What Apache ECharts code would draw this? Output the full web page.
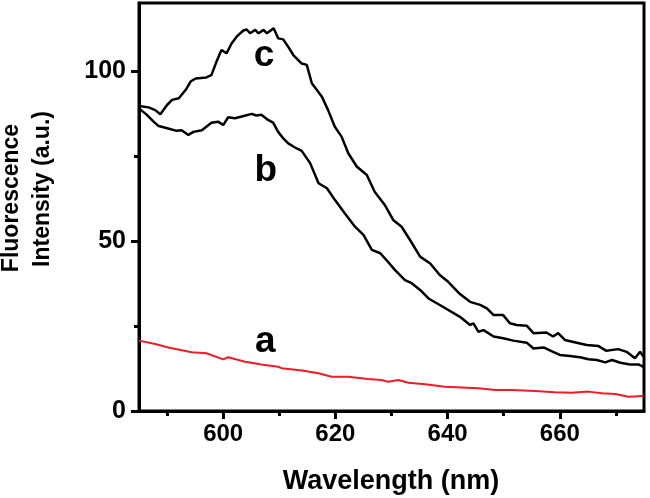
<!DOCTYPE html>
<html><head><meta charset="utf-8">
<script src="https://cdn.jsdelivr.net/npm/echarts@6/dist/echarts.min.js"></script>
<style>html,body{margin:0;padding:0;background:#fff}#c{width:650px;height:498px}</style>
</head><body><div id="c"></div>
<script>
const xTickLabels = [600, 620, 640, 660];
const xMinorTicks = [590, 610, 630, 650, 670];
const yTickLabels = [0, 50, 100];
const yMinorTicks = [25, 75];

const curveA = [[585,20.7],[587.9,19.7],[590.2,18.7],[594.4,17.3],[597,17],[600,15.2],[600.9,15.8],[603.9,14.5],[606.8,13.7],[609.8,13],[610.4,12.6],[614,11.9],[617,11.1],[619.3,10.1],[622.3,10.1],[625.8,9.4],[628.2,9.1],[629.4,8.6],[631.2,9.1],[633,8.3],[636,7.9],[639.5,7.1],[642.5,6.9],[645.5,6.7],[648.5,6.2],[651.4,6.2],[655.6,5.9],[659.1,5.5],[662.1,5.4],[665.1,5.7],[667.5,5.2],[669.9,5],[672.2,4.2],[674.9,4.4]];

const curveB = [[585,89],[586.4,87.1],[587.6,85.1],[588.5,83.8],[590.2,83.1],[591.7,82.4],[592.6,82.6],[593.8,81.2],[594.7,82.1],[596.2,82.6],[597,83.6],[597.9,84.8],[599.1,85.1],[600,84.1],[600.9,86.4],[602.1,86.1],[603.3,86.6],[605.1,87.4],[605.9,86.9],[606.8,87.1],[608,85.6],[608.9,84.8],[609.8,82.1],[610.7,80.2],[611.6,78.7],[612.8,77.5],[614,76.5],[615.5,72.9],[617,67],[618.5,65.5],[619.9,62.1],[621.7,58.1],[623.5,54.2],[625,51.8],[626.5,47.4],[628,46.4],[629.1,44.4],[630.6,41.5],[632.4,38.5],[633.6,37.6],[635.1,35.6],[636.6,33.1],[639,30.8],[642.2,27.7],[644,25.3],[644.6,25.8],[645.5,23.3],[646.4,23.8],[648.2,21.9],[649.9,21.4],[651.7,20.7],[654.1,20.1],[655.3,18.4],[657.1,18.7],[658.8,17.4],[660,16.5],[661.8,16.2],[663.6,15.8],[665.1,15.2],[666.6,15],[668.1,14.3],[669.3,15],[670.8,14.2],[672.5,13.7],[674,13.7],[674.9,13]];

const curveC = [[585,89.7],[586.7,89.3],[587.9,88.5],[588.8,87.3],[590,90],[590.9,91.5],[592.1,92],[593.3,94.4],[594.2,96.9],[595.1,97.8],[597,98.1],[597.9,98.8],[598.8,102.7],[599.7,106.2],[600.6,105.2],[601.5,108.1],[602.4,110.1],[603.6,111.9],[604.2,112.2],[604.8,111.1],[605.7,112.1],[606.3,111.1],[607.2,112.1],[607.8,111.1],[609,112.6],[609.8,109.6],[610.7,109.3],[611.6,107.1],[612.5,104.7],[614,102.2],[614.9,101.8],[615.8,96.4],[617.6,92.4],[618.7,88.5],[619.9,83.6],[621.1,80.7],[622.3,75.8],[623.8,71.9],[625.6,69.4],[627,64.5],[628.8,60.6],[630.3,56.2],[631.8,54.2],[633.3,50.3],[635.1,45.4],[636.9,43.4],[638.6,40],[640.1,38],[642.2,34.4],[644,32.1],[645.8,31.2],[647,30.2],[648.2,28.2],[649.9,28.2],[651.1,25.8],[652.3,25.3],[654.1,25.1],[655.3,22.9],[657.6,23.1],[658.8,21.9],[659.7,22.9],[660.9,20.9],[663,20.1],[664.8,19.4],[666.9,19.1],[668.3,17.7],[670.4,18.2],[671.9,17.4],[673.4,15.5],[674.3,17.4],[674.9,16]];

const curveLabels = [
  {name: 'a', coord: [607.5, 20.3]},
  {name: 'b', coord: [607.6, 70.6]},
  {name: 'c', coord: [607.3, 104.4]}
];

const FONT = '"Liberation Sans", Arial, sans-serif';
const chart = echarts.init(document.getElementById('c'), null, {renderer: 'canvas'});

function labelMark(name) {
  const l = curveLabels.find(d => d.name === name);
  return {
    symbol: 'circle', symbolSize: 2, silent: true, animation: false,
    itemStyle: {color: 'rgba(0,0,0,0)'},
    label: {show: true, position: 'inside', formatter: name, color: '#000', fontSize: 37, fontWeight: 'bold', fontFamily: FONT},
    data: [{coord: l.coord, value: name, name: name}]
  };
}

const baseX = {type: 'value', min: 585, max: 675, gridIndex: 0};
const baseY = {type: 'value', min: 0, max: 120, gridIndex: 0};

chart.setOption({
  animation: false,
  backgroundColor: '#fff',
  grid: {left: 139, right: 6, top: 3, bottom: 87, show: true, borderColor: '#000', borderWidth: 3, backgroundColor: 'transparent'},
  xAxis: [
    Object.assign({}, baseX, {
      position: 'bottom',
      axisLine: {show: true, lineStyle: {color: '#000', width: 3}},
      axisTick: {show: true, inside: false, length: 8, lineStyle: {color: '#000', width: 3}, customValues: xTickLabels},
      axisLabel: {show: true, margin: 11, color: '#000', fontSize: 24, fontWeight: 'bold', fontFamily: FONT, customValues: xTickLabels},
      splitLine: {show: false}
    }),
    Object.assign({}, baseX, {
      position: 'bottom',
      axisLine: {show: false},
      axisTick: {show: true, inside: false, length: 5, lineStyle: {color: '#000', width: 3}, customValues: xMinorTicks},
      axisLabel: {show: false},
      splitLine: {show: false}
    })
  ],
  yAxis: [
    Object.assign({}, baseY, {
      position: 'left',
      axisLine: {show: true, lineStyle: {color: '#000', width: 3}},
      axisTick: {show: true, inside: false, length: 8, lineStyle: {color: '#000', width: 3}, customValues: yTickLabels},
      axisLabel: {show: true, margin: 13, color: '#000', fontSize: 25, fontWeight: 'bold', fontFamily: FONT, customValues: yTickLabels},
      splitLine: {show: false}
    }),
    Object.assign({}, baseY, {
      position: 'left',
      axisLine: {show: false},
      axisTick: {show: true, inside: false, length: 5, lineStyle: {color: '#000', width: 3}, customValues: yMinorTicks},
      axisLabel: {show: false},
      splitLine: {show: false}
    })
  ],
  series: [
    {type: 'line', name: 'a', xAxisIndex: 0, yAxisIndex: 0, data: curveA, showSymbol: false, symbol: 'none', lineStyle: {color: '#ee1c25', width: 2}, markPoint: labelMark('a'), z: 3},
    {type: 'line', name: 'b', xAxisIndex: 0, yAxisIndex: 0, data: curveB, showSymbol: false, symbol: 'none', lineStyle: {color: '#000', width: 2.5}, markPoint: labelMark('b'), z: 3},
    {type: 'line', name: 'c', xAxisIndex: 0, yAxisIndex: 0, data: curveC, showSymbol: false, symbol: 'none', lineStyle: {color: '#000', width: 2.5}, markPoint: labelMark('c'), z: 3}
  ],
  graphic: [
    {type: 'text', x: 12, y: 198, rotation: Math.PI / 2, style: {text: 'Fluorescence', font: 'bold 23px ' + FONT, fill: '#000', textAlign: 'center', textVerticalAlign: 'middle'}},
    {type: 'text', x: 43, y: 189, rotation: Math.PI / 2, style: {text: 'Intensity (a.u.)', font: 'bold 23px ' + FONT, fill: '#000', textAlign: 'center', textVerticalAlign: 'middle'}},
    {type: 'text', x: 391, y: 482, style: {text: 'Wavelength (nm)', font: 'bold 27px ' + FONT, fill: '#000', textAlign: 'center', textVerticalAlign: 'middle'}}
  ]
});
</script></body></html>
